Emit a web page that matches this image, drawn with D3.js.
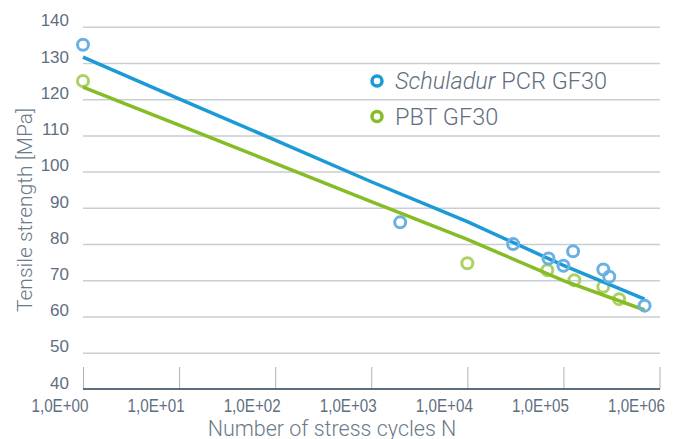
<!DOCTYPE html>
<html>
<head>
<meta charset="utf-8">
<script src="https://cdn.jsdelivr.net/npm/d3@7"></script>
<style>
  body { margin: 0; background: #fff; }
  svg { font-family: Roboto, sans-serif; font-weight: 300; }
</style>
</head>
<body>
<div id="main"></div>
<script>
// measured points
const blueN = [1, 2000, 30000, 70000, 100000, 126000, 260000, 300000, 700000];
const blueS = [135, 86, 80, 76, 74, 78, 73, 71, 63];
const greenN = [1, 10000, 68000, 130000, 260000, 380000];
const greenS = [125, 74.7, 72.8, 70, 68.2, 64.8];

// trend lines
const lineN = [1, 10, 100, 1000, 10000, 100000, 700000];
const blueLine = [131.6, 120.1, 108.7, 97.2, 86.2, 74.1, 64.8];
const greenLine = [123.3, 112.8, 102.3, 91.7, 81.3, 69.9, 61.8];

const yTicks = [40, 50, 60, 70, 80, 90, 100, 110, 120, 130, 140];
const xTicks = [1, 10, 100, 1000, 10000, 100000, 1000000];

const width = 680;
const height = 439;

const x = d3.scaleLog().domain([1, 1e6]).range([83, 659.5]);
const y = d3.scaleLinear().domain([40, 140]).range([389, 26.7]);

const svg = d3.select("#main").append("svg")
    .attr("width", width)
    .attr("height", height);

// gridlines + y labels
const yAxis = svg.append("g")
    .attr("transform", "translate(83,0)")
    .call(d3.axisLeft(y).tickValues(yTicks).tickSize(-577).tickPadding(14));
yAxis.select(".domain").remove();
yAxis.selectAll(".tick line")
    .attr("stroke", d => d === 40 ? "none" : "#c9cdd4")
    .attr("stroke-width", 1.5);
yAxis.selectAll(".tick text")
    .attr("fill", "#5f6f7f")
    .attr("font-size", 17)
    .attr("dy", "-0.05em");

// x axis
const xAxis = svg.append("g")
    .attr("transform", "translate(0,389)")
    .call(d3.axisBottom(x).tickValues(xTicks).tickSize(-22).tickPadding(0)
      .tickFormat(d => "1,0E+0" + Math.round(Math.log10(d))));
xAxis.select(".domain").remove();
xAxis.selectAll(".tick line").attr("stroke", "#aab3bd").attr("stroke-width", 1);
xAxis.selectAll(".tick text")
    .attr("fill", "#5f6f7f")
    .attr("font-size", 18)
    .attr("textLength", 57)
    .attr("lengthAdjust", "spacingAndGlyphs")
    .attr("text-anchor", "end")
    .attr("dx", 5)
    .attr("y", 23)
    .attr("dy", 0);

svg.append("line")
    .attr("x1", 83).attr("x2", 660)
    .attr("y1", 389).attr("y2", 389)
    .attr("stroke", "#5b6d7e")
    .attr("stroke-width", 2);

const line = d3.line()
    .x(d => x(d[0]))
    .y(d => y(d[1]));

function dots(ns, ss, color) {
  svg.append("g").selectAll("circle")
    .data(ns.map((n, i) => [n, ss[i]]))
    .join("circle")
    .attr("cx", d => x(d[0]))
    .attr("cy", d => y(d[1]))
    .attr("r", 5.5)
    .attr("fill", "none")
    .attr("stroke", color)
    .attr("stroke-width", 3);
}

dots(greenN, greenS, "#acd064");

svg.append("path")
    .datum(lineN.map((n, i) => [n, greenLine[i]]))
    .attr("d", line)
    .attr("fill", "none")
    .attr("stroke", "#86bc25")
    .attr("stroke-width", 3.5);

svg.append("path")
    .datum(lineN.map((n, i) => [n, blueLine[i]]))
    .attr("d", line)
    .attr("fill", "none")
    .attr("stroke", "#1c9ad6")
    .attr("stroke-width", 3.5);

dots(blueN, blueS, "#69b1e2");

// legend
const legend = [
  { color: "#1c9ad6", italic: "Schuladur", rest: " PCR GF30", y: 81 },
  { color: "#86bc25", italic: "", rest: "PBT GF30", y: 116.5 }
];
legend.forEach(l => {
  svg.append("circle")
    .attr("cx", 377).attr("cy", l.y)
    .attr("r", 5)
    .attr("fill", "none")
    .attr("stroke", l.color)
    .attr("stroke-width", 3.5);
  const t = svg.append("text")
    .attr("x", 395).attr("y", l.y + 8)
    .attr("font-size", 23.5)
    .attr("fill", "#5f6f7f");
  if (l.italic) t.append("tspan").attr("font-style", "italic").text(l.italic);
  t.append("tspan").text(l.rest);
});

// axis titles
svg.append("text")
    .attr("x", 332).attr("y", 435.5)
    .attr("text-anchor", "middle")
    .attr("font-size", 21.5)
    .attr("fill", "#6a7a8a")
    .text("Number of stress cycles N");

svg.append("text")
    .attr("transform", "translate(32,210) rotate(-90)")
    .attr("text-anchor", "middle")
    .attr("font-size", 21)
    .attr("fill", "#6a7a8a")
    .text("Tensile strength [MPa]");
</script>
</body>
</html>
